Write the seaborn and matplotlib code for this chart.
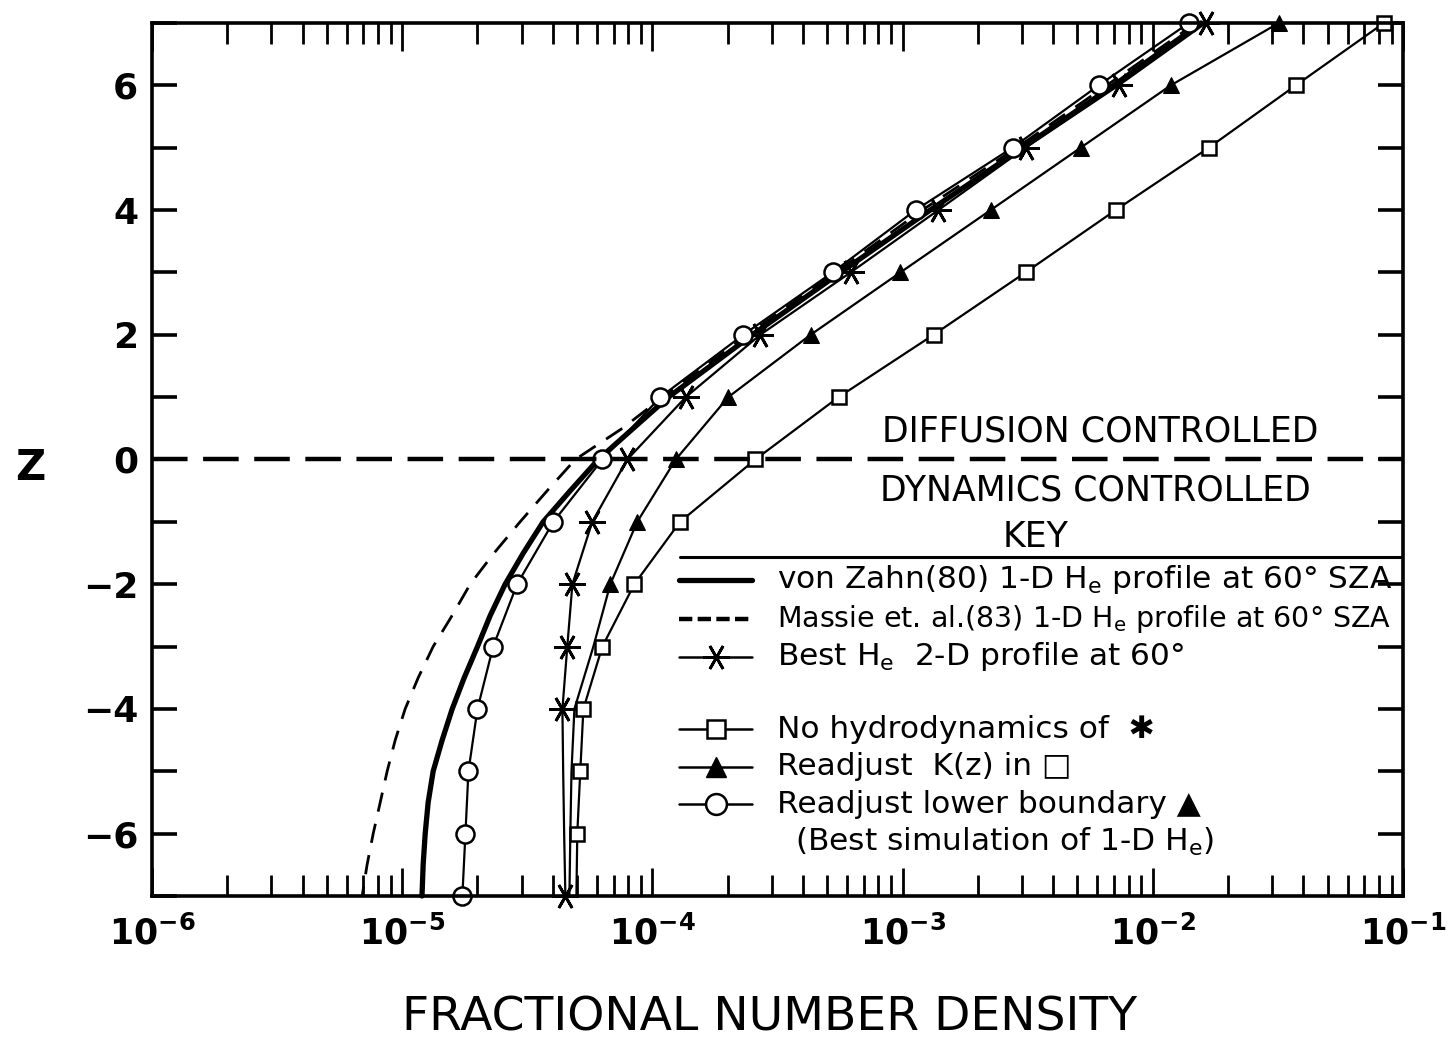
"""
Fractional number density profiles vs. reduced altitude Z
"""

# %% --------------------------------------------------------------------------
# Imports
# -----------------------------------------------------------------------------
import numpy as np
import pandas as pd
import matplotlib
matplotlib.use("Agg")
import matplotlib.pyplot as plt
import seaborn as sns
from matplotlib.ticker import LogLocator, NullFormatter, FixedLocator, MultipleLocator

# %% --------------------------------------------------------------------------
# Data
# -----------------------------------------------------------------------------
# model runs, one point per unit of Z
z = [7, 6, 5, 4, 3, 2, 1, 0, -1, -2, -3, -4, -5, -6, -7]

best_2d = [1.63e-2, 7.31e-3, 3.10e-3, 1.39e-3, 6.20e-4, 2.70e-4, 1.36e-4, 7.94e-5,
           5.75e-5, 4.79e-5, 4.57e-5, 4.37e-5, 4.40e-5, 4.44e-5, 4.49e-5]
no_hydro = [8.39e-2, 3.73e-2, 1.675e-2, 7.11e-3, 3.10e-3, 1.33e-3, 5.55e-4, 2.58e-4,
            1.29e-4, 8.47e-5, 6.31e-5, 5.30e-5, 5.15e-5, 5.01e-5, 4.97e-5]
readjust_k = [3.19e-2, 1.18e-2, 5.15e-3, 2.25e-3, 9.80e-4, 4.29e-4, 2.01e-4, 1.24e-4,
              8.70e-5, 6.79e-5, 5.81e-5, 4.88e-5, 4.75e-5, 4.70e-5, 4.66e-5]
readjust_lb = [1.393e-2, 6.08e-3, 2.75e-3, 1.127e-3, 5.25e-4, 2.31e-4, 1.076e-4, 6.31e-5,
               4.02e-5, 2.88e-5, 2.31e-5, 2.00e-5, 1.84e-5, 1.79e-5, 1.74e-5]

# which points carry a visible symbol
best_2d_marks = [0, 1, 2, 3, 4, 5, 6, 7, 8, 9, 10, 11, 14]
no_hydro_marks = list(range(14))
readjust_k_marks = list(range(10))

# 1-D reference profiles (smooth curves, read more densely)
z_ref = [7, 6, 5, 4, 3, 2, 1, 0.5, 0, -0.5, -1, -1.5, -2, -2.5, -3, -3.5, -4, -4.5,
         -5, -5.5, -6, -6.5, -7]
von_zahn = [1.56e-2, 6.98e-3, 3.02e-3, 1.29e-3, 5.65e-4, 2.51e-4, 1.16e-4, 8.39e-5,
            6.08e-5, 4.70e-5, 3.66e-5, 3.05e-5, 2.58e-5, 2.25e-5, 2.00e-5, 1.77e-5,
            1.585e-5, 1.445e-5, 1.33e-5, 1.27e-5, 1.236e-5, 1.213e-5, 1.20e-5]
massie = [1.49e-2, 6.55e-3, 2.86e-3, 1.20e-3, 5.40e-4, 2.40e-4, 1.10e-4, 7.59e-5,
          4.92e-5, 3.80e-5, 2.96e-5, 2.33e-5, 1.87e-5, 1.585e-5, 1.33e-5, 1.159e-5,
          1.028e-5, 9.38e-6, 8.71e-6, 8.17e-6, 7.66e-6, 7.24e-6, 6.92e-6]

x_ticks = [1e-6, 1e-5, 1e-4, 1e-3, 1e-2, 1e-1]
x_tick_labels = ["$10^{-6}$", "$10^{-5}$", "$10^{-4}$", "$10^{-3}$", "$10^{-2}$", "$10^{-1}$"]
y_ticks = [-6, -4, -2, 0, 2, 4, 6]
y_tick_labels = ["\u22126", "\u22124", "\u22122", "0", "2", "4", "6"]

runs = pd.DataFrame({"z": z, "best_2d": best_2d, "no_hydro": no_hydro,
                     "readjust_k": readjust_k, "readjust_lb": readjust_lb})
refs = pd.DataFrame({"z": z_ref, "von_zahn": von_zahn, "massie": massie})

# %% --------------------------------------------------------------------------
# Plot
# -----------------------------------------------------------------------------
sns.set_style("ticks")
plt.rcParams["font.family"] = ["DejaVu Sans"]
plt.rcParams["mathtext.default"] = "bf"
for key in ["text.color", "axes.labelcolor", "xtick.color", "ytick.color",
            "axes.edgecolor"]:
    plt.rcParams[key] = "black"

fig = plt.figure(figsize=(14.5, 10.44), dpi=100)
ax = fig.add_axes([0.1048, 0.1418, 0.8628, 0.8362])

asterisk = (6, 2, 90)
common = dict(y="z", sort=False, estimator=None, ax=ax, color="black",
              legend=False, clip_on=False)

sns.lineplot(data=refs, x="massie", linewidth=2.0, linestyle=(0, (7, 4.5)), **common)
sns.lineplot(data=refs, x="von_zahn", linewidth=3.8, **common)
sns.lineplot(data=runs, x="no_hydro", linewidth=1.6, marker="s", markersize=10,
             mfc="white", mec="black", mew=1.8, markevery=no_hydro_marks, **common)
sns.lineplot(data=runs, x="readjust_k", linewidth=1.6, marker="^", markersize=12,
             mfc="black", mec="black", markevery=readjust_k_marks, **common)
sns.lineplot(data=runs, x="best_2d", linewidth=1.6, marker=asterisk, markersize=19,
             mec="black", mew=2.0, markevery=best_2d_marks, **common)
sns.lineplot(data=runs, x="readjust_lb", linewidth=1.6, marker="o", markersize=13,
             mfc="white", mec="black", mew=1.8, **common)

# boundary between diffusion and dynamics regimes
ax.axhline(0, color="black", linewidth=3.2, linestyle=(0, (8, 3.5)))

ax.set_xscale("log")
ax.set_xlim(1e-6, 1e-1)
ax.set_ylim(-7, 7)

ax.xaxis.set_major_locator(FixedLocator(x_ticks))
ax.set_xticklabels(x_tick_labels)
ax.xaxis.set_minor_locator(LogLocator(base=10, subs=np.arange(2, 10), numticks=20))
ax.xaxis.set_minor_formatter(NullFormatter())
ax.set_yticks(y_ticks)
ax.set_yticklabels(y_tick_labels, fontweight="bold")
ax.yaxis.set_minor_locator(MultipleLocator(1))

ax.tick_params(axis="both", which="both", direction="in", top=True, right=True)
ax.tick_params(axis="x", which="major", length=20, width=2.0, pad=14, labelsize=25)
ax.tick_params(axis="x", which="minor", length=15, width=2.0)
ax.tick_params(axis="y", which="both", length=18, width=2.6, pad=10, labelsize=26)
for s in ax.spines.values():
    s.set_linewidth(2.6)

ax.set_xlabel("")
ax.set_ylabel("")
fig.text(0.531, 0.025, "FRACTIONAL NUMBER DENSITY", fontsize=34, ha="center", va="center")
fig.text(0.021, 0.552, "Z", fontsize=30, fontweight="bold", ha="center", va="center")

# region labels and key
tx = dict(transform=ax.transAxes, fontsize=25, ha="center", va="center")
ax.text(0.758, 0.5315, "DIFFUSION CONTROLLED", **tx)
ax.text(0.754, 0.465, "DYNAMICS CONTROLLED", **tx)
ax.text(0.706, 0.411, "KEY", **tx)
ax.plot([0.422, 1.0], [0.388, 0.388], transform=ax.transAxes, color="black", lw=2.2)

sub_e = "H$_\\mathregular{e}$"
key_rows = [
    (0.362, dict(lw=3.8), None, 22.5,
     f"von Zahn(80) 1-D {sub_e} profile at 60\u00b0 SZA"),
    (0.317, dict(lw=3.2, linestyle=(0, (3, 1.2))), None, 20.5,
     f"Massie et. al.(83) 1-D {sub_e} profile at 60\u00b0 SZA"),
    (0.274, dict(lw=1.8), dict(marker=asterisk, markersize=19, mfc="black", mew=2.0), 22.5,
     f"Best {sub_e}  2-D profile at 60\u00b0"),
    (0.191, dict(lw=1.8), dict(marker="s", markersize=13, mfc="white", mew=1.8), 22.5,
     "No hydrodynamics of  \u2731"),
    (0.148, dict(lw=1.8), dict(marker="^", markersize=15, mfc="black", mew=1.0), 22.5,
     "Readjust  K(z) in \u25a1"),
    (0.105, dict(lw=1.8), dict(marker="o", markersize=15, mfc="white", mew=1.8), 22.5,
     "Readjust lower boundary \u25b2"),
]
for yy, line_style, mark_style, size, label in key_rows:
    ax.plot([0.421, 0.48], [yy, yy], transform=ax.transAxes, color="black", **line_style)
    if mark_style:
        ax.plot([0.4505], [yy], transform=ax.transAxes, color="black", linestyle="none",
                mec="black", **mark_style)
    ax.text(0.4996, yy, label, transform=ax.transAxes, fontsize=size, ha="left",
            va="center")
ax.text(0.514, 0.062, f"(Best simulation of 1-D {sub_e})", transform=ax.transAxes,
        fontsize=22.5, ha="left", va="center")

fig.savefig("out.png", dpi=100)
